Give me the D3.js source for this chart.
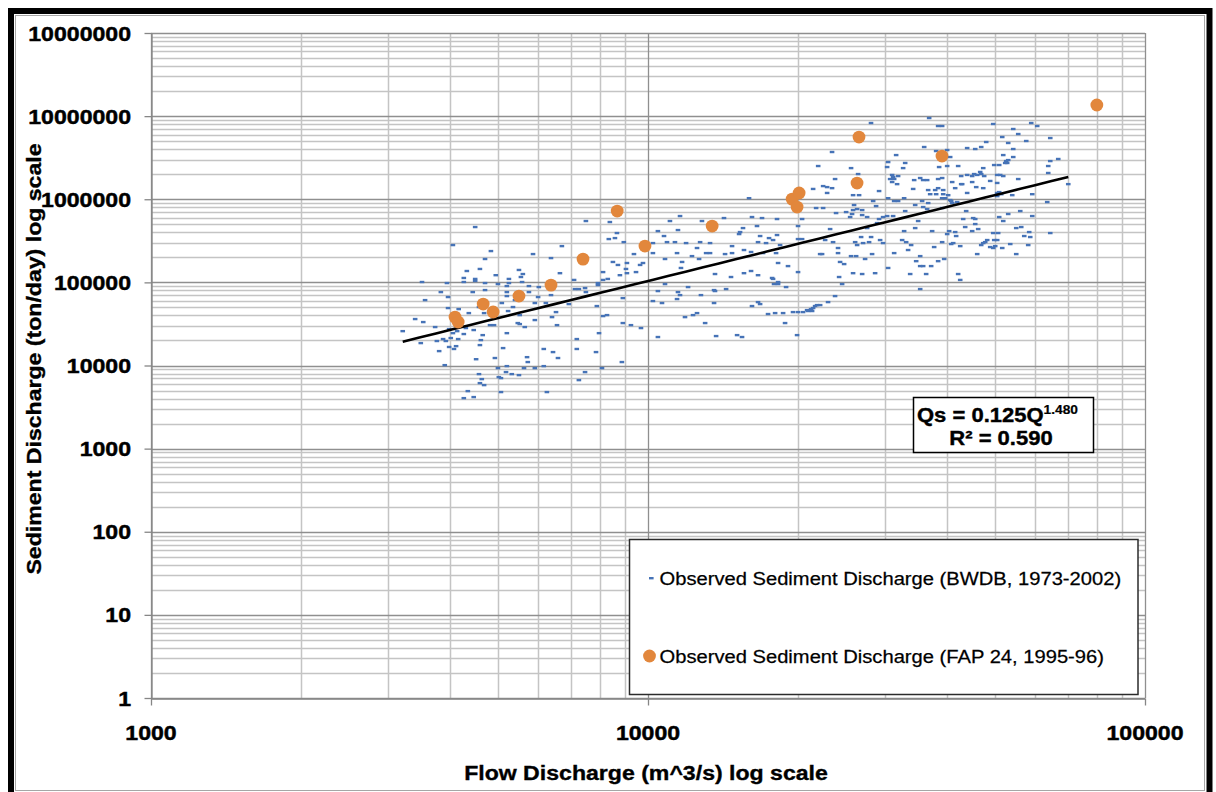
<!DOCTYPE html>
<html>
<head>
<meta charset="utf-8">
<script src="https://cdn.jsdelivr.net/npm/d3@7"></script>
<style>
  html, body { margin: 0; padding: 0; background: #fff; }
  svg { display: block; }
</style>
</head>
<body>
<svg id="chart" width="1216" height="792"></svg>
<script>
// ---------------------------------------------------------------------------
// Data: flow discharge Q (m^3/s) and sediment discharge Qs (ton/day)
// ---------------------------------------------------------------------------
const seriesNames = [
  "Observed Sediment Discharge (BWDB, 1973-2002)",
  "Observed Sediment Discharge (FAP 24, 1995-96)"
];

// BWDB observations, [Q, Qs]
const bwdbObs = [
  [4490,463000],[7500,547000],[8380,532000],[11070,547000],[11490,426000],[10470,414000],[8660,392000],[8580,341000],[10770,361000],[8340,332000],
  [8940,305000],[10920,305000],[11330,305000],[10230,297000],[4050,281000],[6710,273000],[4830,238000],[11440,225000],[5870,219000],[9370,219000],
  [10230,225000],[4700,191000],[6380,196000],[8500,176000],[8700,162000],[9070,171000],[9640,162000],[9770,171000],[10820,191000],[4320,137000],
  [4590,145000],[5500,141000],[6650,129000],[8120,133000],[9030,145000],[9070,129000],[9460,133000],[5600,126000],[4940,122000],[5550,116000],
  [4260,113000],[4490,110000],[4490,104000],[7100,107000],[8780,122000],[8300,110000],[3510,101000],[3940,98100],[4260,101000],[4700,98100],
  [4990,95400],[5250,110000],[5250,98100],[5580,101000],[5760,90300],[6030,87800],[5200,90300],[7130,83100],[7260,83100],[7470,85400],
  [7500,76400],[7930,98100],[7930,92800],[8120,107000],[8900,64700],[3830,76400],[4440,76400],[4700,80800],[5200,76400],[5760,76400],
  [5200,68400],[6010,66600],[6380,70300],[3560,61200],[3960,66600],[5400,61200],[5080,56400],[5920,56400],[6230,56400],[6930,54800],
  [7890,51900],[10820,95400],[10470,78600],[10670,56400],[10230,59600],[11490,76400],[11440,63000],[3960,49100],[4160,47700],[4360,42700],
  [4570,50500],[5230,45200],[5350,50500],[4680,42700],[5520,40400],[6410,38200],[5920,35200],[6530,43900],[8120,39300],[8270,40400],
  [8900,32400],[9240,30600],[9680,28200],[10470,22000],[3400,36200],[3530,33300],[3730,29000],[3210,25900],[3980,27400],[4130,25900],
  [4300,28200],[4460,26700],[4050,24500],[4260,23900],[4810,30600],[4900,30600],[5470,32400],[5520,31500],[5650,29000],[5200,24500],
  [4650,23200],[6560,30600],[4010,21400],[3870,20800],[4150,20800],[3760,19700],[3920,19700],[4610,20200],[4590,17600],[3490,18600],
  [3980,16700],[4070,15800],[4110,17100],[3800,14900],[5110,16200],[6170,15800],[6440,14500],[7190,15800],[7190,20800],[7860,14500],
  [7970,24500],[4510,11900],[4920,12300],[5710,12600],[5730,11000],[6590,12300],[8860,11000],[3900,10100],[5200,9830],[4990,9300],
  [5630,9300],[5920,9300],[6170,9830],[8080,9300],[4570,7880],[4630,6860],[4590,6140],[4680,5810],[5010,7250],[5060,7050],
  [5180,8330],[5320,7880],[5500,7660],[7470,8330],[7260,6670],[4340,4920],[4460,4170],[5060,4790],[6260,4790],[4260,4050],

  [28100,8260000],[23460,3700000],[22000,2510000],[25620,2370000],[23790,1750000],[26470,2010000],[22510,1440000],[22930,1400000],[23460,1360000],[21490,1330000],
  [22930,1190000],[29170,1255000],[15970,1030000],[25860,1120000],[26590,1120000],[28380,951000],[25980,852000],[26350,762000],[25860,741000],[26970,741000],
  [21790,784000],[22510,784000],[28770,828000],[16190,611000],[16960,594000],[16570,476000],[15530,450000],[15320,403000],[15250,381000],[14220,594000],
  [12840,547000],[11600,628000],[18180,578000],[20040,476000],[20420,578000],[23900,682000],[25040,701000],[25510,611000],[25740,664000],[26970,645000],
  [27600,611000],[29170,578000],[28910,517000],[23250,438000],[27600,450000],[22720,323000],[23570,305000],[26110,305000],[26350,281000],[27090,297000],
  [27850,305000],[26840,351000],[28110,351000],[11930,297000],[12730,305000],[13330,297000],[12550,259000],[14760,273000],[16650,305000],[17280,297000],
  [17850,323000],[18440,281000],[17520,341000],[16810,361000],[18180,371000],[20040,332000],[20420,332000],[22200,219000],[22400,219000],[24120,259000],
  [24120,225000],[24350,176000],[24810,166000],[25620,207000],[26230,207000],[27340,191000],[28240,219000],[12260,207000],[12670,191000],[13090,225000],
  [13330,225000],[14290,219000],[14760,225000],[15600,245000],[16120,232000],[17040,225000],[18100,225000],[11710,176000],[11650,149000],[18270,171000],
  [19130,157000],[20040,133000],[13640,126000],[14690,116000],[15600,129000],[16120,137000],[16650,122000],[17770,113000],[17850,110000],[24240,116000],
  [25860,129000],[26970,126000],[28640,129000],[12040,87800],[13580,80800],[14360,83100],[13640,78600],[17930,95400],[18270,95400],[18960,87800],
  [18270,101000],[24580,95400],[23790,68400],[23030,57900],[11600,70300],[12780,70300],[13580,56400],[16190,51900],[16650,57900],[16810,54800],
  [17440,41600],[18020,42700],[18700,42700],[19580,43900],[20040,43900],[20510,43900],[20900,46400],[21290,47700],[21490,49100],[21690,51900],
  [21890,53300],[22200,53300],[20990,45200],[21390,45200],[11870,38200],[12320,40400],[12550,42700],[13030,32400],[18870,32400],[13710,22600],
  [15110,23200],[15460,22000],[19950,23200],

  [36790,9490000],[38350,7600000],[39070,7600000],[49500,8040000],[59030,8260000],[60690,7600000],[54310,7000000],[55580,6090000],[51610,5600000],[47920,4880000],
  [53060,4750000],[57680,5020000],[64470,5450000],[35950,4250000],[43870,4130000],[45540,4020000],[46820,4250000],[54310,4020000],[31570,3400000],[38000,3800000],
  [39990,3910000],[40550,3220000],[51850,3400000],[54310,3220000],[66900,3050000],[64470,2880000],[30420,2800000],[32920,2730000],[30280,2440000],[32610,2370000],
  [38530,2440000],[42080,2510000],[39990,2510000],[49730,2580000],[50890,2580000],[52570,2880000],[53060,2960000],[52810,2730000],[52330,2730000],[47260,2370000],
  [46600,2130000],[45320,2010000],[45960,1960000],[46820,2010000],[47470,1900000],[63870,2510000],[63870,2070000],[30990,1960000],[31130,1850000],[30700,1750000],
  [31280,1750000],[31860,1900000],[30990,1610000],[34320,1700000],[35290,1800000],[35780,1700000],[36450,1700000],[38350,1750000],[39070,1800000],[42670,1900000],
  [43870,1960000],[44900,1900000],[48810,1660000],[50420,1960000],[51130,1960000],[51850,1900000],[55580,1750000],[70080,1520000],[31710,1520000],[40930,1610000],
  [42870,1520000],[44900,1610000],[50420,1570000],[34160,1330000],[36620,1290000],[37830,1290000],[38350,1360000],[39260,1290000],[36960,1150000],[38000,1150000],
  [39260,1150000],[40170,1120000],[39620,1030000],[39070,1030000],[41500,1360000],[42670,1520000],[43870,1190000],[45750,1400000],[47260,1360000],[50890,1220000],
  [51370,1150000],[50420,1090000],[50420,1190000],[54060,1120000],[59310,1150000],[30420,1030000],[31280,951000],[31860,951000],[32760,1030000],[34480,852000],
  [35610,951000],[36620,900000],[35780,806000],[36450,762000],[39070,784000],[40550,978000],[40740,951000],[41880,925000],[40930,900000],[43670,721000],
  [63570,925000],[32920,721000],[29720,611000],[30280,628000],[31130,628000],[34960,547000],[43070,578000],[45110,594000],[45540,578000],[50890,611000],
  [51850,547000],[53060,664000],[56100,721000],[59310,628000],[45540,503000],[43470,463000],[32760,414000],[34480,450000],[37300,414000],[40360,414000],
  [39990,381000],[41690,361000],[41500,403000],[44900,414000],[46170,438000],[49500,392000],[50650,392000],[55070,450000],[56360,463000],[58480,403000],
  [58760,351000],[57150,361000],[64470,392000],[29310,323000],[29720,297000],[32460,323000],[33070,305000],[33840,281000],[39070,305000],[40740,289000],
  [41120,297000],[42480,273000],[37650,266000],[33370,245000],[46820,281000],[47260,297000],[47700,305000],[48140,323000],[48810,266000],[49500,259000],
  [49960,273000],[49730,323000],[50420,323000],[51610,259000],[53560,289000],[58210,281000],[55070,219000],[45960,219000],[31280,225000],[35290,207000],
  [34640,180000],[35290,157000],[35780,157000],[37130,157000],[36280,126000],[33690,126000],[38350,180000],[39440,191000],[30420,149000],[42080,126000],
  [42480,107000],[35290,83100]
];

// FAP 24 observations, [Q, Qs]
const fapObs = [
  [4090,38200],[4150,33300],[4660,54800],[4880,44000],[5500,68400],[6380,92700],[7400,190500],[8670,721000],[9860,273500],
  [13460,476000],[19500,1004000],[20140,1189000],[19950,805000],[26340,1567000],[26580,5600000],[39040,3310000],[80000,13600000]
];

// Power-law fit Qs = a * Q^b
const fitCoef = 0.125;
const fitExp = 1.480;
const fitR2 = 0.590;

// Axis ticks and their printed labels
const xTickValues = [1000, 10000, 100000];
const xTickLabels = ["1000", "10000", "100000"];
const yTickValues = [1, 10, 100, 1000, 10000, 100000, 1000000, 10000000, 100000000];
const yTickLabels = ["1", "10", "100", "1000", "10000", "100000", "1000000", "10000000", "10000000"];

const xTitle = "Flow Discharge (m^3/s) log scale";
const yTitle = "Sediment Discharge (ton/day) log scale";

// ---------------------------------------------------------------------------
// Drawing
// ---------------------------------------------------------------------------
const W = 1216, H = 792;
const FONT = "'Liberation Sans', Arial, Helvetica, sans-serif";
const SX = 1.1; // horizontal glyph widening of the label text

const plot = { left: 151, right: 1145, top: 33, bottom: 698 };
const svg = d3.select("#chart");

const x = d3.scaleLog().domain([1000, 100000]).range([plot.left, plot.right]);
const y = d3.scaleLog().domain([1, 1e8]).range([plot.bottom, plot.top]);

// page background and frame
svg.append("rect").attr("width", W).attr("height", H).attr("fill", "#fff");
svg.append("rect")
  .attr("x", 11).attr("y", 11).attr("width", 1198.5).attr("height", 800)
  .attr("fill", "none").attr("stroke", "#000").attr("stroke-width", 6);
svg.append("rect")
  .attr("x", 15.5).attr("y", 15.5).attr("width", 1189).attr("height", 775)
  .attr("fill", "none").attr("stroke", "#a6a6a6").attr("stroke-width", 1);

function label(parent, str, px, py, o) {
  const g = parent.append("g")
    .attr("transform", `translate(${px},${py})${o.rotate ? ` rotate(${o.rotate})` : ""} scale(${o.sx ?? SX},1)`);
  const t = g.append("text")
    .attr("text-anchor", o.anchor || "start")
    .attr("font-family", FONT)
    .attr("font-size", o.size)
    .attr("font-weight", o.weight || "normal")
    .attr("fill", o.fill || "#000")
    .text(str);
  if (o.heavy) t.attr("stroke", o.fill || "#000").attr("stroke-width", o.heavy);
  return t;
}

// grid: every 1..9 multiple inside each decade
function logGrid(lo, hi) {
  const out = [];
  for (let p = lo; p <= hi; p++) {
    for (let m = 1; m <= 9; m++) {
      const v = m * Math.pow(10, p);
      if (v <= Math.pow(10, hi)) out.push({ v, major: m === 1 });
    }
  }
  return out;
}
const xGrid = logGrid(3, 5);
const yGrid = logGrid(0, 8);

const grid = svg.append("g");
[false, true].forEach(major => {
  grid.selectAll(null)
    .data(xGrid.filter(d => d.major === major)).enter().append("line")
    .attr("x1", d => Math.round(x(d.v)) + 0.5).attr("x2", d => Math.round(x(d.v)) + 0.5)
    .attr("y1", plot.top).attr("y2", plot.bottom)
    .attr("stroke", major ? "#8f8f8f" : "#c4c4c4")
    .attr("stroke-width", major ? 1.3 : 1.5);
  grid.selectAll(null)
    .data(yGrid.filter(d => d.major === major)).enter().append("line")
    .attr("y1", d => Math.round(y(d.v)) + 0.5).attr("y2", d => Math.round(y(d.v)) + 0.5)
    .attr("x1", plot.left).attr("x2", plot.right)
    .attr("stroke", major ? "#8f8f8f" : "#c4c4c4")
    .attr("stroke-width", major ? 1.3 : 1.5);
});

// axes
const axisColor = "#868686";
const yAxis = svg.append("g")
  .attr("transform", `translate(${plot.left + 0.5},0)`)
  .call(d3.axisLeft(y).tickValues(yTickValues).tickSize(7).tickSizeOuter(0).tickFormat(""));
const xAxis = svg.append("g")
  .attr("transform", `translate(0,${plot.bottom + 0.5})`)
  .call(d3.axisBottom(x).tickValues(xTickValues).tickSize(7).tickSizeOuter(0).tickFormat(""));
[yAxis, xAxis].forEach(a => {
  a.selectAll("path, line").attr("stroke", axisColor).attr("stroke-width", 1.3);
});

yTickValues.forEach((v, i) => {
  label(svg, yTickLabels[i], 131, y(v) + 7.5, { anchor: "end", size: 21, weight: "bold", heavy: 0.45 });
});
xTickValues.forEach((v, i) => {
  label(svg, xTickLabels[i], x(v), 740, { anchor: "middle", size: 21, weight: "bold", heavy: 0.45 });
});

// axis titles
label(svg, xTitle, 646, 780, { anchor: "middle", size: 21, weight: "bold", heavy: 0.35 });
label(svg, yTitle, 41, 359, { anchor: "middle", size: 21, weight: "bold", rotate: -90, heavy: 0.35 });

// BWDB points: small dash markers
const blue = "#4673b7";
svg.append("g").selectAll("rect")
  .data(bwdbObs).enter().append("rect")
  .attr("x", d => x(d[0]) - 2.3).attr("y", d => y(d[1]) - 1.2)
  .attr("width", 4.6).attr("height", 2.4)
  .attr("fill", blue);

// trend line across the BWDB discharge range
const [qMin, qMax] = d3.extent(bwdbObs, d => d[0]);
const fitPts = d3.range(0, 41).map(i => {
  const q = qMin * Math.pow(qMax / qMin, i / 40);
  return [q, fitCoef * Math.pow(q, fitExp)];
});
svg.append("path")
  .datum(fitPts)
  .attr("d", d3.line().x(d => x(d[0])).y(d => y(d[1])))
  .attr("fill", "none").attr("stroke", "#000").attr("stroke-width", 2.6);

// FAP 24 points: orange circles
const orange = "#e2873c";
svg.append("g").selectAll("circle")
  .data(fapObs).enter().append("circle")
  .attr("cx", d => x(d[0])).attr("cy", d => y(d[1]))
  .attr("r", 6.4).attr("fill", orange);

// equation box
const eq = svg.append("g");
eq.append("rect")
  .attr("x", 913.5).attr("y", 397.5).attr("width", 180).attr("height", 55)
  .attr("fill", "#fff").attr("stroke", "#000").attr("stroke-width", 1.5);
const eqLine = eq.append("g").attr("transform", "translate(917,421.5) scale(1.1,1)")
  .append("text").attr("font-family", FONT).attr("font-weight", "bold").attr("font-size", 20)
  .attr("stroke", "#000").attr("stroke-width", 0.4);
eqLine.append("tspan").text(`Qs = ${fitCoef.toFixed(3)}Q`);
eqLine.append("tspan").attr("font-size", 12.5).attr("dy", -8).attr("stroke-width", 0.2).text(fitExp.toFixed(3));
label(eq, `R\u00B2 = ${fitR2.toFixed(3)}`, 1001, 445, { anchor: "middle", size: 20, weight: "bold", heavy: 0.4 });

// legend
const lg = svg.append("g");
lg.append("rect")
  .attr("x", 629.5).attr("y", 539.5).attr("width", 508.5).attr("height", 155)
  .attr("fill", "#fff").attr("stroke", "#2b2b2b").attr("stroke-width", 1.5);
lg.append("rect").attr("x", 649).attr("y", 577).attr("width", 4.6).attr("height", 2.4).attr("fill", blue);
label(lg, seriesNames[0], 659.5, 585, { size: 18.5, sx: 1.09, heavy: 0.25 });
lg.append("circle").attr("cx", 649.5).attr("cy", 656).attr("r", 6.4).attr("fill", orange);
label(lg, seriesNames[1], 659.5, 663, { size: 18.5, sx: 1.09, heavy: 0.25 });
</script>
</body>
</html>
